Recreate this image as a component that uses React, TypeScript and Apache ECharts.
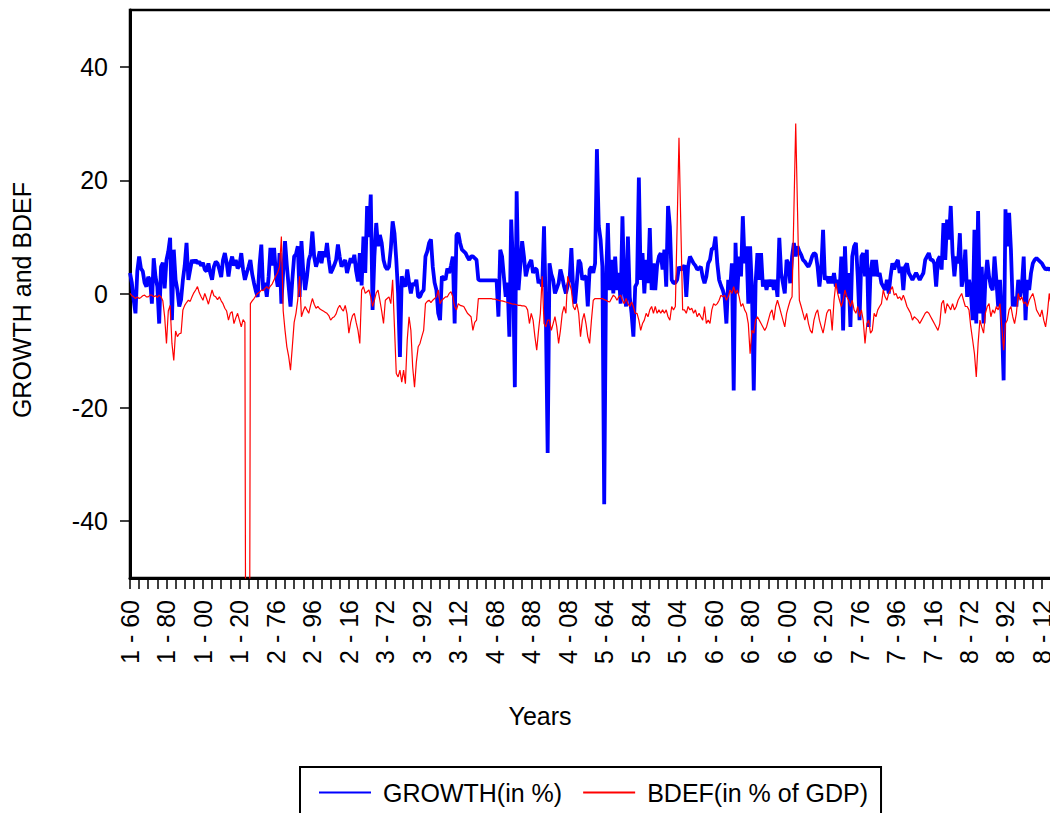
import React, { useEffect, useRef } from "react";
import * as echarts from "echarts";

const FONT = '"Liberation Sans", Arial, sans-serif';

// panel units (countries) and years of each unit
const UNITS = [1, 2, 3, 4, 5, 6, 7, 8];
const FIRST_YEAR = 1960;
const YEARS_PER_UNIT = 64;

const Y_TICKS = [-40, -20, 0, 20, 40];

const SERIES_NAMES = ["GROWTH(in %)", "BDEF(in % of GDP)"];

// GROWTH (in %) per unit, 1960-2023
const growth1 = [3.7, 2.0, -1.0, -3.4, 4.0, 6.6, 4.5, 4.0, 2.0, 1.3,
  3.0, 2.5, -1.7, 6.3, 3.0, 1.3, -5.2, 4.8, 5.5, 1.0,
  6.0, 7.5, 9.9, -4.6, 7.8, 2.5, 0.7, -2.2, -1.0, 2.5,
  5.0, 9.0, 2.5, 4.3, 6.0, 5.5, 6.0, 5.4, 5.7, 5.0,
  5.5, 4.3, 4.0, 5.4, 3.7, 2.5, 4.8, 5.7, 5.4, 4.3,
  3.0, 6.0, 7.2, 5.5, 3.1, 5.4, 6.6, 5.0, 6.0, 4.5,
  5.0, 7.2, 4.3, 2.5];
const growth2 = [3.7, 4.8, 6.0, 3.5, 1.9, 0.5, -0.5, 5.0, 8.7, 0.7,
  2.0, -0.5, 3.0, 8.1, 5.0, 8.1, 3.5, 1.3, 7.2, -1.7,
  4.0, 9.3, 5.0, 1.3, -2.2, 2.5, 6.6, 7.0, 8.4, -0.5,
  9.3, 4.0, 0.7, 3.0, 6.0, 7.0, 11.0, 6.5, 4.8, 6.0,
  7.5, 5.4, 7.5, 6.5, 9.0, 6.0, 3.7, 4.3, 5.1, 6.0,
  8.7, 6.5, 4.8, 5.5, 6.0, 3.7, 5.0, 6.3, 5.5, 6.9,
  4.0, 2.2, 7.2, 1.5];
const growth3 = [10.1, 3.7, 15.5, 10.0, 17.5, -2.8, 6.6, 12.5, 8.4, 10.4,
  9.0, 6.0, 4.8, 4.3, 4.8, 8.0, 12.8, 10.7, 6.0, 0.1,
  -11.1, 3.1, 2.0, 1.3, 4.3, 2.0, 0.1, 1.9, 1.5, 2.5,
  -0.5, -0.5, 0.3, 0.7, 6.6, 7.5, 9.0, 9.6, 4.8, 2.0,
  0.7, -3.4, -4.6, 3.1, 2.8, 2.5, 4.5, 3.7, 5.0, 6.6,
  -5.2, 10.4, 10.7, 9.0, 7.8, 7.5, 7.2, 6.5, 6.0, 6.6,
  6.6, 6.3, 6.0, 2.5];
const growth4 = [2.4, 2.4, 2.4, 2.4, 2.4, 2.4, 2.4, 2.4, 2.4, 2.4,
  -4.0, 7.8, 6.6, 3.0, -0.5, 2.0, -7.5, 13.1, 5.0, -16.4,
  18.1, 0.7, 5.0, 9.3, 6.6, 3.1, 4.5, 5.4, 6.0, 3.7,
  4.5, 4.3, 1.9, 2.5, 1.3, 11.9, -3.4, -28.0, 5.4, 3.5,
  2.5, 0.1, 1.0, 1.9, 4.3, 3.0, 1.3, 0.1, 1.5, 2.5,
  8.1, 0.7, -1.7, 2.0, 6.0, 5.4, 2.5, 3.0, 3.1, -2.2,
  4.3, 4.8, 3.7, 5.4];
const growth5 = [25.5, 12.0, 9.6, 4.8, -37.0, 2.5, 12.5, 0.7, 6.0, 0.1,
  6.6, 0.7, 3.7, -1.7, 13.7, 0.7, -2.2, 10.1, -0.5, -3.4,
  -7.5, 1.3, 1.9, 20.5, 2.5, 7.2, 0.1, 6.0, 1.9, 11.6,
  0.7, 5.4, 0.7, 5.0, 6.6, 7.2, 4.3, 7.8, 1.3, 15.5,
  11.9, 2.5, 1.9, 2.0, 2.5, 4.8, 4.3, 4.5, 5.1, -0.5,
  4.8, 6.6, 6.0, 5.4, 5.0, 4.3, 4.5, 4.8, 3.0, 1.9,
  3.1, 5.4, 6.0, 8.0];
const growth6 = [8.0, 10.1, 5.4, 2.5, 1.5, 0.7, -0.5, -5.2, 2.5, 0.7,
  5.4, -17.0, 9.0, 0.1, 6.6, 3.1, 13.7, 5.4, 8.4, -1.7,
  8.4, 0.7, -17.0, 1.9, 7.2, 2.5, 7.2, 1.3, 2.5, 0.7,
  2.5, 1.3, 2.5, 0.7, 2.5, -0.5, 9.9, 3.7, 1.9, 0.1,
  6.0, 5.4, 1.9, 6.6, 9.0, 6.6, 8.4, 7.5, 6.9, 6.0,
  5.7, 5.2, 4.8, 5.5, 6.6, 7.2, 7.0, 4.8, 1.3, 4.3,
  11.3, 2.5, 3.1, 1.9];
const growth7 = [3.1, 1.9, 3.7, 1.3, 2.5, 0.1, 6.6, -6.4, 8.4, -0.5,
  3.7, -5.8, 6.6, 8.4, 9.0, 3.1, -4.6, 6.6, 7.2, 3.1,
  7.8, -5.8, 3.7, 6.0, 3.1, 6.0, 3.1, 3.7, 1.9, 1.3,
  0.7, 2.5, 0.1, 3.1, 5.4, 4.3, 5.4, 6.0, 3.7, 4.8,
  0.7, 4.8, 5.4, 3.7, 3.1, 2.5, 3.1, 3.7, 3.1, 2.5,
  3.1, 3.7, 6.0, 6.6, 7.2, 6.0, 6.0, 5.4, 1.3, 6.0,
  6.6, 4.3, 12.5, 6.0];
const growth8 = [13.1, 9.6, 15.5, 7.2, 3.1, 6.6, 5.4, 10.7, 1.3, 3.1,
  7.8, -0.5, 2.5, 0.7, -4.6, 11.3, -5.2, 14.6, -3.4, 4.8,
  -5.2, 2.5, 6.0, 3.1, 1.3, 0.7, 6.6, 2.5, -2.2, 2.5,
  -4.6, -15.2, 14.9, 8.4, 14.3, 7.8, -2.2, -0.5, -2.2, 2.5,
  -0.5, 1.3, 6.6, -4.6, 2.5, 0.7, 3.7, 5.4, 6.0, 6.3,
  6.0, 5.7, 5.4, 4.8, 4.3, 4.5, 4.3, 4.5, 4.3, 4.5,
  4.5, 4.8, 4.5, 4.6];

// BDEF (in % of GDP) per unit, 1960-2023
const bdef1 = [0.1, -0.3, -0.5, -0.8, -0.5, -0.8, -0.6, -0.3, -0.2, -0.5,
  -0.5, -0.2, -0.2, -0.5, -0.3, -0.6, -0.2, -0.5, -1.2, -4.0,
  -8.7, -3.0, -2.0, -8.7, -11.7, -6.5, -7.5, -7.0, -6.9, -2.8,
  -2.0, -1.5, -1.1, -1.3, -0.5, 0.2, 0.7, 1.3, 0.2, -0.5,
  -1.1, 0.1, -0.8, -1.8, -0.5, 0.7, -0.3, -0.5, -1.0, -0.5,
  -1.2, -1.7, -2.5, -3.0, -4.6, -3.4, -3.1, -5.2, -4.2, -3.4,
  -4.6, -5.8, -4.5, -5.0];
const bdef2 = [-150, -150, -1.7, -1.2, -0.8, -0.3, 0.1, 0.3, 0.7, 0.6,
  1.0, 1.3, 0.9, 1.4, 1.8, 2.5, 3.2, 3.8, 4.8, 10.1,
  -3.0, -6.4, -9.3, -11.0, -13.4, -9.3, -5.0, -3.4, -1.0, 3.1,
  -4.0, -3.0, -2.2, -2.8, -3.4, -2.0, -0.8, -1.8, -2.5, -2.2,
  -2.6, -2.8, -3.0, -3.2, -3.4, -3.8, -4.6, -4.2, -4.0, -3.5,
  -2.5, -2.0, -2.6, -3.0, -2.0, -3.5, -6.9, -5.0, -3.8, -3.4,
  -5.0, -6.4, -8.7, 0.7];
const bdef3 = [1.3, 0.1, 0.4, 0.7, -0.5, -2.2, -1.1, 0.2, 0.7, -1.1,
  -3.0, -5.2, -1.1, -0.8, -0.5, -1.7, 2.5, -5.8, -14.0, -14.6,
  -13.4, -15.5, -13.4, -15.8, -8.1, -4.0, -6.4, -12.9, -16.4, -12.0,
  -9.3, -8.7, -7.5, -6.4, -1.7, -1.3, -1.1, -1.5, -1.1, -0.8,
  -0.5, 0.7, -1.7, -1.1, -0.8, -0.5, -0.5, 0.1, 0.4, -0.5,
  -2.2, -2.8, -1.7, -2.0, -2.1, -2.2, -2.8, -3.4, -3.7, -4.0,
  -6.4, -5.0, -4.6, -0.8];
const bdef4 = [-0.8, -0.8, -0.8, -0.8, -0.8, -0.8, -0.8, -0.9, -0.9, -1.0,
  -1.1, -1.2, -1.2, -1.3, -1.4, -1.5, -1.6, -1.7, -1.8, -1.8,
  -1.9, -2.0, -2.0, -2.1, -2.1, -2.2, -2.8, -5.2, -3.4, -4.6,
  -7.5, -9.9, -6.4, -3.4, 3.1, -5.2, -5.8, -4.6, -4.6, -6.4,
  -5.2, -4.0, -5.8, -8.7, -6.4, -3.4, -2.2, -3.4, 3.1, 1.9,
  0.7, -2.2, -2.8, -1.7, -3.4, -7.5, -4.6, -3.4, -5.2, -7.5,
  -8.7, -4.6, -1.1, -0.8];
const bdef5 = [-0.8, -0.8, -0.8, -0.8, -1.0, -1.1, -1.3, -1.4, -0.8, -0.2,
  -0.5, -1.1, -0.5, -0.2, -1.1, -1.7, -0.8, -1.7, -2.2, -1.4,
  -2.2, -3.4, -3.4, -4.6, -6.4, -5.2, -4.6, -3.4, -4.0, -2.8,
  -2.2, -3.4, -2.2, -3.4, -2.8, -3.4, -2.8, -3.4, -2.8, -4.0,
  -4.6, -2.2, -2.8, -2.2, 12.2, 27.5, 12.2, -2.8, -2.8, -3.4,
  -2.2, -2.8, -2.5, -3.4, -2.8, -4.0, -3.4, -4.0, -4.6, -2.2,
  -5.2, -4.6, -5.2, -2.8];
const bdef6 = [-1.7, -2.0, -1.7, -1.1, -0.2, -0.5, -0.2, -1.1, -0.5, 0.7,
  0.1, 1.3, 0.1, 0.7, -0.5, -2.2, -1.7, -2.8, -3.4, -5.2,
  -10.5, -6.4, -6.9, -4.6, -4.0, -4.6, -5.2, -5.8, -6.4, -5.8,
  -4.6, -3.4, -2.8, -4.6, -2.2, -1.1, -2.2, -3.4, -4.6, -5.8,
  -3.4, -2.2, -1.1, -0.5, 14.6, 30.0, 14.6, -1.1, -2.2, -3.4,
  -4.6, -3.4, -5.2, -6.4, -6.9, -4.6, -3.4, -2.8, -4.6, -5.8,
  -6.9, -5.2, -3.4, -2.8];
const bdef7 = [-2.8, -6.4, -1.1, 1.9, 0.1, -1.1, -2.2, -1.1, 0.7, -0.5,
  -1.1, -2.2, -1.1, -2.8, -3.4, -2.2, -4.0, -2.8, -4.6, -8.7,
  -5.2, -4.6, -6.9, -6.4, -3.4, -4.0, -2.8, -2.2, -1.7, 0.7,
  -0.5, -1.1, 0.1, 0.7, 1.3, -0.2, 0.1, -0.8, -0.5, -1.1,
  -0.2, -1.1, -2.2, -2.8, -3.4, -4.6, -4.0, -4.3, -4.6, -5.2,
  -4.6, -4.0, -3.4, -3.1, -3.4, -4.0, -4.6, -5.2, -5.8, -6.4,
  -5.2, -1.7, -1.1, -3.4];
const bdef8 = [-1.7, -2.2, -2.8, -1.7, -2.8, -2.2, -1.1, -0.5, 0.1, -1.1,
  -2.2, -2.2, -2.8, -5.8, -8.1, -10.5, -14.6, -8.7, -4.6, -5.8,
  -6.9, -3.4, -2.2, -1.7, -4.0, -2.8, -3.4, -2.2, -2.8, -1.7,
  -5.8, -9.9, -5.2, -4.6, -2.8, -2.2, -4.0, -5.2, -3.4, 0.1,
  -1.1, -0.5, -1.7, -1.4, -2.2, -1.1, -0.5, 0.1, -1.1, -2.8,
  -3.4, -4.0, -2.8, -4.6, -5.8, -3.4, 0.1, -2.0, -3.0, -5.0,
  -6.0, -3.0, -0.5, 0.3];

const GROWTH = [growth1, growth2, growth3, growth4, growth5, growth6, growth7, growth8];
const BDEF = [bdef1, bdef2, bdef3, bdef4, bdef5, bdef6, bdef7, bdef8];

const categories: string[] = [];
UNITS.forEach((u) => {
  for (let k = 0; k < YEARS_PER_UNIT; k++) {
    const yy = String((FIRST_YEAR + k) % 100).padStart(2, "0");
    categories.push(`${u} - ${yy}`);
  }
});

export default function App() {
  const ref = useRef<HTMLDivElement>(null);

  useEffect(() => {
    if (!ref.current) return;
    const chart = echarts.init(ref.current, undefined, { renderer: "svg" });
    const growth = GROWTH.flat();
    const bdef = BDEF.flat();

    chart.setOption({
      animation: false,
      backgroundColor: "#ffffff",
      textStyle: { fontFamily: FONT },
      grid: {
        left: 130,
        top: 10,
        width: 932,
        height: 568,
        show: true,
        borderColor: "#000",
        borderWidth: 2.5,
        backgroundColor: "transparent",
      },
      xAxis: {
        type: "category",
        data: categories,
        boundaryGap: false,
        axisLine: { onZero: false, lineStyle: { color: "#000", width: 3 } },
        axisTick: { interval: 4, length: 11, lineStyle: { color: "#000", width: 1.5 } },
        axisLabel: {
          interval: 19,
          rotate: 90,
          margin: 22,
          fontSize: 25,
          color: "#000",
          fontFamily: FONT,
        },
        splitLine: { show: false },
      },
      yAxis: {
        type: "value",
        min: -50,
        max: 50,
        axisLine: { show: true, onZero: false, lineStyle: { color: "#000", width: 3 } },
        axisTick: {
          show: true,
          length: 10,
          customValues: Y_TICKS,
          lineStyle: { color: "#000", width: 1.5 },
        },
        axisLabel: {
          customValues: Y_TICKS,
          margin: 22,
          fontSize: 25,
          color: "#000",
          fontFamily: FONT,
        },
        splitLine: { show: false },
      },
      legend: {
        left: 300,
        top: 767,
        orient: "horizontal",
        itemWidth: 52,
        itemHeight: 14,
        itemGap: 20,
        padding: [13, 13, 20, 18],
        borderColor: "#000",
        borderWidth: 2,
        backgroundColor: "#fff",
        itemStyle: { opacity: 0 },
        textStyle: { fontSize: 25, color: "#000", fontFamily: FONT, padding: [0, 0, 0, 7] },
        data: SERIES_NAMES,
      },
      graphic: [
        {
          type: "text",
          x: 540,
          y: 716,
          style: {
            text: "Years",
            fill: "#000",
            font: `25px ${FONT}`,
            textAlign: "center",
            textVerticalAlign: "middle",
            align: "center",
            verticalAlign: "middle",
          },
        },
        {
          type: "text",
          x: 22,
          y: 300,
          rotation: Math.PI / 2,
          style: {
            text: "GROWTH and BDEF",
            fill: "#000",
            font: `25px ${FONT}`,
            textAlign: "center",
            textVerticalAlign: "middle",
            align: "center",
            verticalAlign: "middle",
          },
        },
      ],
      series: [
        {
          name: SERIES_NAMES[0],
          type: "line",
          data: growth,
          symbol: "none",
          showSymbol: false,
          lineStyle: { color: "#0000ff", width: 3.8 },
          itemStyle: { color: "#0000ff" },
          z: 2,
        },
        {
          name: SERIES_NAMES[1],
          type: "line",
          data: bdef,
          symbol: "none",
          showSymbol: false,
          lineStyle: { color: "#ff0000", width: 1.2 },
          itemStyle: { color: "#ff0000" },
          z: 3,
        },
      ],
    });
    return () => chart.dispose();
  }, []);

  return (
    <div
      style={{
        position: "fixed",
        left: 0,
        top: 0,
        width: 1050,
        height: 813,
        overflow: "hidden",
        background: "#fff",
      }}
    >
      <div ref={ref} style={{ width: 1100, height: 830 }} />
    </div>
  );
}
